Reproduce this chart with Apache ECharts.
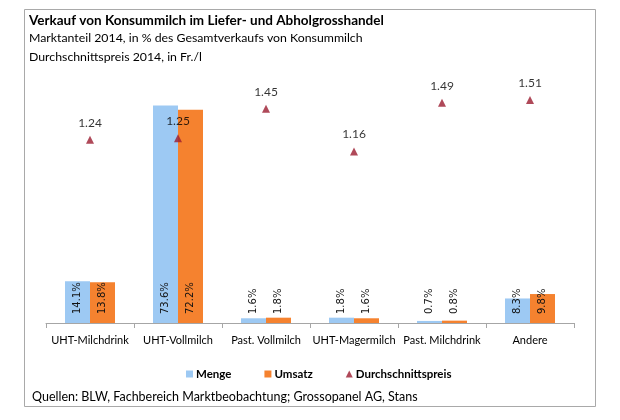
<!DOCTYPE html>
<html>
<head>
<meta charset="utf-8">
<script src="https://cdn.jsdelivr.net/npm/echarts@6/dist/echarts.min.js"></script>
<style>html,body{margin:0;padding:0;background:#fff}#c{width:620px;height:420px}</style>
</head>
<body>
<div id="c"></div>
<script>
var categories = ['UHT-Milchdrink', 'UHT-Vollmilch', 'Past. Vollmilch', 'UHT-Magermilch', 'Past. Milchdrink', 'Andere'];
var menge = [14.1, 73.6, 1.6, 1.8, 0.7, 8.3];
var umsatz = [13.8, 72.2, 1.8, 1.6, 0.8, 9.8];
var preis = [1.24, 1.25, 1.45, 1.16, 1.49, 1.51];

var FONT = 'Lato';
var chart = echarts.init(document.getElementById('c'));
var barLabel = {
  show: true,
  position: 'insideBottom',
  distance: 9,
  rotate: 90,
  align: 'left',
  verticalAlign: 'middle',
  fontFamily: 'DejaVu Sans',
  fontSize: 10,
  color: '#111',
  formatter: function (p) { return p.value.toFixed(1) + '%'; }
};
chart.setOption({
  animation: false,
  backgroundColor: '#fff',
  graphic: [
    { type: 'rect', shape: { x: 24.5, y: 9.5, width: 571, height: 397 },
      style: { fill: 'none', stroke: '#a9a9a9', lineWidth: 1 }, z: -1 },
    { type: 'text', left: 29, top: 14, style: { text: 'Verkauf von Konsummilch im Liefer- und Abholgrosshandel', fontFamily: FONT, fontWeight: 'bold', fontSize: 13.5, fill: '#000' } },
    { type: 'text', left: 29, top: 32, style: { text: 'Marktanteil 2014, in % des Gesamtverkaufs von Konsummilch', fontFamily: FONT, fontSize: 12.3, fill: '#000' } },
    { type: 'text', left: 29, top: 51, style: { text: 'Durchschnittspreis 2014, in Fr./l', fontFamily: FONT, fontSize: 12.3, fill: '#000' } },
    { type: 'text', left: 32, top: 390, style: { text: 'Quellen: BLW, Fachbereich Marktbeobachtung; Grossopanel AG, Stans', fontFamily: FONT, fontSize: 12.5, fill: '#000' } }
  ],
  legend: {
    left: 181, top: 363,
    itemWidth: 7, itemHeight: 7, itemGap: 33,
    textStyle: { fontFamily: FONT, fontWeight: 'bold', fontSize: 11.5, color: '#000', padding: [0, 0, 0, -2] },
    data: [
      { name: 'Menge', icon: 'rect' },
      { name: 'Umsatz', icon: 'rect' },
      { name: 'Durchschnittspreis', icon: 'triangle' }
    ]
  },
  grid: { left: 46, right: 46, top: 27.5, bottom: 97 },
  xAxis: {
    type: 'category',
    data: categories,
    axisLine: { lineStyle: { color: '#a6a6a6' } },
    axisTick: { show: true, length: 5, lineStyle: { color: '#a6a6a6' } },
    axisLabel: { fontFamily: FONT, fontSize: 11, color: '#000', margin: 12, interval: 0 }
  },
  yAxis: [
    { type: 'value', min: 0, max: 100, show: false },
    { type: 'value', min: 0, max: 2, show: false }
  ],
  series: [
    { name: 'Menge', type: 'bar', data: menge, barWidth: 25, barGap: '0%',
      itemStyle: { color: '#9dc9f3' }, label: barLabel },
    { name: 'Umsatz', type: 'bar', data: umsatz, barWidth: 25, barGap: '0%',
      itemStyle: { color: '#f5822f' }, label: barLabel },
    { name: 'Durchschnittspreis', type: 'scatter', yAxisIndex: 1, data: preis,
      symbol: 'triangle', symbolSize: [8, 8],
      itemStyle: { color: '#9b1b30' },
      label: { show: true, position: 'top', distance: 7, fontFamily: FONT, fontSize: 12, color: '#000',
        formatter: function (p) { return p.value.toFixed(2); } } }
  ]
});
</script>
</body>
</html>
